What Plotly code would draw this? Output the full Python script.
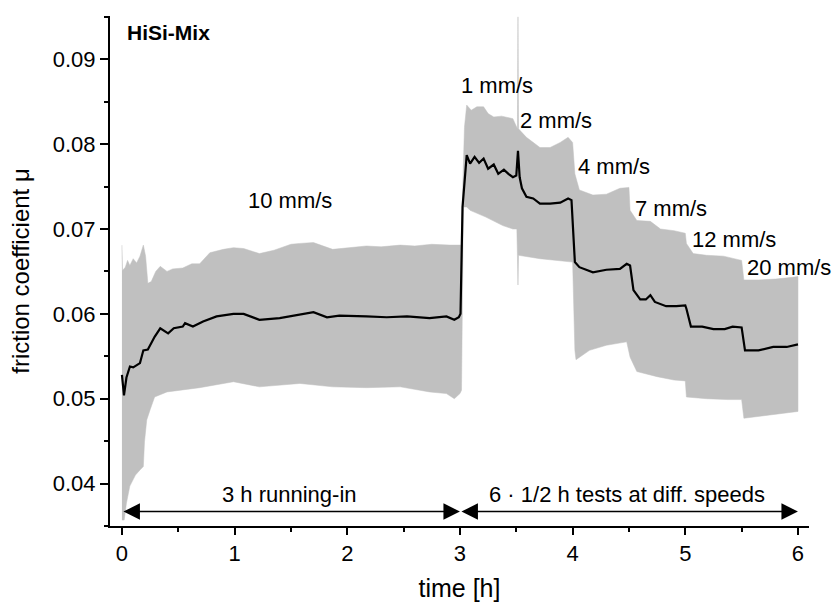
import plotly.graph_objects as go

# ---- data ----
t_mean = [0.0, 0.018, 0.04, 0.071, 0.10, 0.16, 0.19, 0.23, 0.29, 0.34, 0.41, 0.46, 0.54, 0.56,
          0.63, 0.72, 0.84, 0.99, 1.08, 1.22, 1.40, 1.52, 1.70, 1.82, 1.93, 2.17, 2.35, 2.53,
          2.73, 2.88, 2.95, 2.99, 3.005, 3.023, 3.06, 3.09, 3.13, 3.17, 3.21, 3.25, 3.30, 3.34,
          3.39, 3.43, 3.47, 3.50, 3.515, 3.53, 3.55, 3.59, 3.65, 3.71, 3.80, 3.89, 3.96, 3.99,
          4.02, 4.06, 4.18, 4.30, 4.42, 4.48, 4.51, 4.54, 4.60, 4.65, 4.69, 4.73, 4.83, 4.92,
          5.00, 5.01, 5.05, 5.15, 5.25, 5.35, 5.42, 5.50, 5.53, 5.65, 5.78, 5.90, 6.0]
mu_mean = [0.0528, 0.0504, 0.0525, 0.0538, 0.0537, 0.0542, 0.0557, 0.0558, 0.0573, 0.0583, 0.0577,
           0.0583, 0.0585, 0.0589, 0.0585, 0.0591, 0.0597, 0.0600, 0.0600, 0.0593, 0.0595, 0.0598,
           0.0602, 0.0596, 0.0598, 0.0597, 0.0596, 0.0597, 0.0595, 0.0597, 0.0593, 0.0596, 0.0600,
           0.0726, 0.0787, 0.0777, 0.0785, 0.0778, 0.0783, 0.0771, 0.0776, 0.0765, 0.0770, 0.0765,
           0.0761, 0.0763, 0.0792, 0.0761, 0.0748, 0.0738, 0.0736, 0.0730, 0.0730, 0.0731, 0.0736,
           0.0734, 0.0661, 0.0655, 0.0649, 0.0652, 0.0653, 0.0659, 0.0657, 0.0628, 0.0617, 0.0617,
           0.0622, 0.0614, 0.0609, 0.0609, 0.0610, 0.0606, 0.0585, 0.0585, 0.0582, 0.0582, 0.0585,
           0.0584, 0.0557, 0.0557, 0.0561, 0.0561, 0.0564]

t_upper = [0.0, 0.005, 0.03, 0.05, 0.07, 0.10, 0.13, 0.16, 0.19, 0.21, 0.23, 0.26, 0.30, 0.34,
           0.40, 0.45, 0.54, 0.62, 0.69, 0.78, 0.90, 0.99, 1.08, 1.22, 1.35, 1.50, 1.58, 1.70,
           1.87, 2.00, 2.17, 2.30, 2.47, 2.60, 2.75, 2.91, 3.01, 3.04, 3.06, 3.10, 3.15, 3.21,
           3.25, 3.30, 3.37, 3.47, 3.51, 3.515, 3.52, 3.59, 3.71, 3.80, 3.89, 3.96, 4.00, 4.02,
           4.06, 4.18, 4.30, 4.42, 4.50, 4.51, 4.57, 4.69, 4.78, 4.90, 5.00, 5.01, 5.07, 5.19,
           5.34, 5.50, 5.52, 5.65, 5.80, 5.95, 6.00]
mu_upper = [0.0681, 0.0651, 0.0655, 0.0663, 0.0657, 0.0665, 0.0660, 0.0668, 0.0681, 0.0668,
            0.0636, 0.0638, 0.0650, 0.0656, 0.0650, 0.0653, 0.0654, 0.0659, 0.0659, 0.0672,
            0.0676, 0.0678, 0.0677, 0.0671, 0.0675, 0.0682, 0.0683, 0.0684, 0.0676, 0.0678,
            0.0680, 0.0679, 0.0681, 0.0680, 0.0682, 0.0681, 0.0681, 0.0820, 0.0846, 0.0840,
            0.0844, 0.0844, 0.0836, 0.0832, 0.0833, 0.0830, 0.0818, 0.0950, 0.0818, 0.0808,
            0.0796, 0.0796, 0.0802, 0.0808, 0.0802, 0.0765, 0.0746, 0.0740, 0.0741, 0.0748,
            0.0749, 0.0722, 0.0710, 0.0709, 0.0700, 0.0698, 0.0695, 0.0683, 0.0671, 0.0669,
            0.0668, 0.0663, 0.0640, 0.0640, 0.0641, 0.0643, 0.0644]

t_lower = [0.0, 0.02, 0.04, 0.07, 0.12, 0.16, 0.19, 0.20, 0.22, 0.25, 0.29, 0.40, 0.69, 0.99,
           1.22, 1.58, 1.87, 2.17, 2.47, 2.73, 2.88, 2.95, 3.0, 3.014, 3.03, 3.06, 3.09, 3.23,
           3.38, 3.47, 3.505, 3.51, 3.515, 3.52, 3.71, 3.86, 4.00, 4.02, 4.03, 4.15, 4.30, 4.48,
           4.51, 4.57, 4.75, 4.90, 5.00, 5.01, 5.19, 5.37, 5.50, 5.52, 5.78, 6.0]
mu_lower = [0.0357, 0.0357, 0.0377, 0.0397, 0.0410, 0.0416, 0.0420, 0.0449, 0.0475, 0.0487,
            0.0502, 0.0508, 0.0513, 0.0520, 0.0514, 0.0518, 0.0514, 0.0513, 0.0514, 0.0508,
            0.0506, 0.0500, 0.0506, 0.0510, 0.0726, 0.0726, 0.0722, 0.0714, 0.0704, 0.0700,
            0.0700, 0.0669, 0.0634, 0.0669, 0.0665, 0.0663, 0.0661, 0.0557, 0.0546, 0.0557,
            0.0563, 0.0567, 0.0549, 0.0532, 0.0526, 0.0522, 0.0521, 0.0502, 0.0500, 0.0499,
            0.0499, 0.0477, 0.0481, 0.0485]

speed_labels = ["10 mm/s", "1 mm/s", "2 mm/s", "4 mm/s", "7 mm/s", "12 mm/s", "20 mm/s"]
speed_x = [1.49, 3.33, 3.85, 4.37, 4.87, 5.43, 5.92]
speed_y = [0.0734, 0.0869, 0.0828, 0.0774, 0.0724, 0.0688, 0.0655]

phase_labels = ["3 h running-in", "6 · 1/2 h tests at diff. speeds"]
phase_start = [0.0, 3.0]
phase_end = [3.0, 6.0]
phase_text_x = [1.49, 4.48]

FONT = "Liberation Sans, Arial, sans-serif"

fig = go.Figure()

# grey oscillation band (closed polygon: upper edge then lower edge reversed)
fig.add_trace(go.Scatter(
    x=t_upper + t_lower[::-1],
    y=mu_upper + mu_lower[::-1],
    fill="toself", fillcolor="#c0c0c0",
    line=dict(color="#c0c0c0", width=0.5),
    mode="lines", hoverinfo="skip", showlegend=False))

# mean friction coefficient
fig.add_trace(go.Scatter(
    x=t_mean, y=mu_mean, mode="lines",
    line=dict(color="black", width=2.2), showlegend=False))

annotations = []
for lab, x, y in zip(speed_labels, speed_x, speed_y):
    annotations.append(dict(x=x, y=y, xref="x", yref="y", text=lab, showarrow=False,
                            font=dict(family=FONT, size=22, color="black")))

annotations.append(dict(x=0.027, y=0.0931, xref="x", yref="y", text="<b>HiSi-Mix</b>",
                        xanchor="left", showarrow=False,
                        font=dict(family=FONT, size=21, color="black")))

arrow_y = 0.0367
for lab, x0, x1, xt in zip(phase_labels, phase_start, phase_end, phase_text_x):
    annotations.append(dict(x=x1, y=arrow_y, ax=x0, ay=arrow_y, xref="x", yref="y",
                            axref="x", ayref="y", text="", showarrow=True,
                            arrowhead=2, startarrowhead=2, arrowside="end+start",
                            arrowsize=2.2, startarrowsize=2.2, arrowwidth=1.5,
                            arrowcolor="black", standoff=0, startstandoff=0))
    annotations.append(dict(x=xt, y=0.0387, xref="x", yref="y", text=lab, showarrow=False,
                            font=dict(family=FONT, size=22, color="black")))

fig.update_layout(
    width=835, height=602,
    margin=dict(l=110, r=26, t=16, b=76, autoexpand=False),
    paper_bgcolor="white", plot_bgcolor="white",
    font=dict(family=FONT, size=22, color="black"),
    annotations=annotations,
    showlegend=False,
    xaxis=dict(range=[-0.106, 6.098], showgrid=False, zeroline=False,
               showline=True, linecolor="black", linewidth=2,
               ticks="outside", ticklen=7, tickwidth=2, tickcolor="black",
               tick0=0, dtick=1, automargin=False,
               minor=dict(dtick=0.5, ticks="outside", ticklen=4, tickwidth=2, tickcolor="black"),
               title=dict(text="time [h]", font=dict(family=FONT, size=25), standoff=14),
               tickfont=dict(family=FONT, size=22)),
    yaxis=dict(range=[0.035, 0.0951], showgrid=False, zeroline=False,
               showline=True, linecolor="black", linewidth=2,
               ticks="outside", ticklen=8, tickwidth=2, tickcolor="black",
               tick0=0.04, dtick=0.01, tickformat=".2f", automargin=False,
               minor=dict(dtick=0.005, ticks="outside", ticklen=4, tickwidth=2, tickcolor="black"),
               title=dict(text="friction coefficient μ", font=dict(family=FONT, size=24), standoff=16),
               tickfont=dict(family=FONT, size=22)),
)

fig.write_html("out.html", config={"displayModeBar": False},
               post_script="document.body.style.margin='0';document.body.style.overflow='hidden';")
